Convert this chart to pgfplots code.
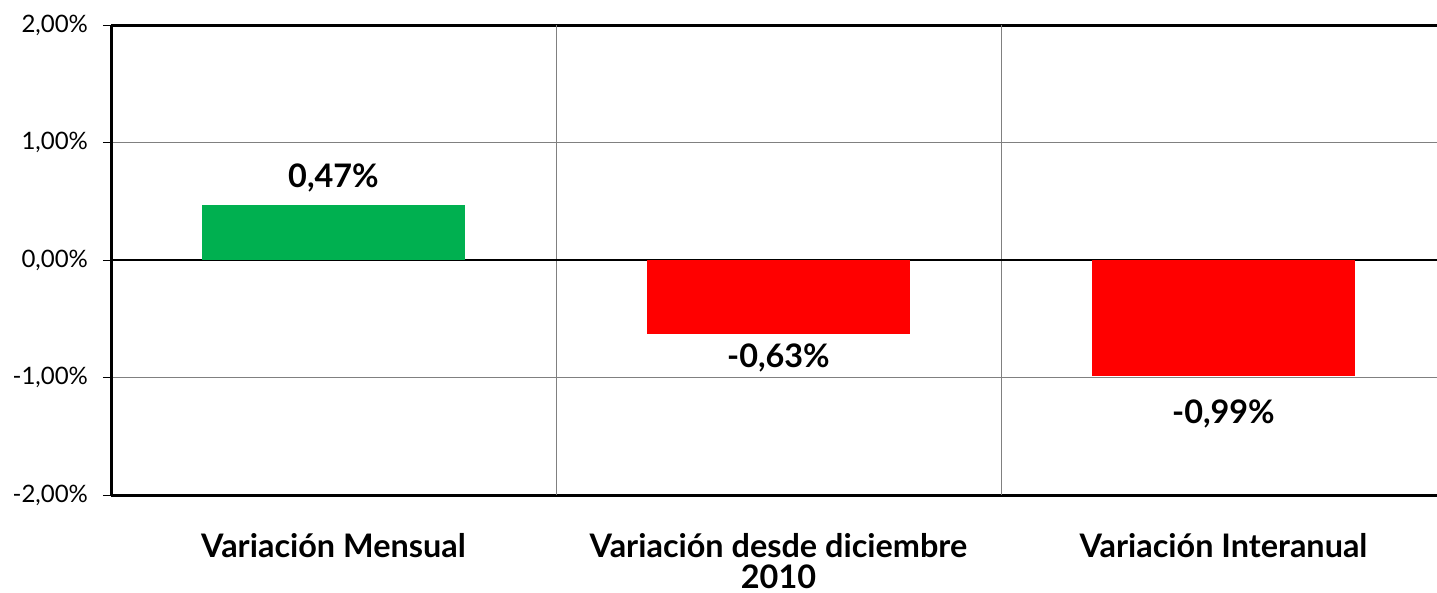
\documentclass[border=0pt]{standalone}
\usepackage{pgfplots}
\pgfplotsset{compat=1.18}
\usepackage{fontspec}
\setmainfont{Lato}
\definecolor{vgreen}{HTML}{00B050}
\definecolor{vred}{HTML}{FF0000}
\begin{document}
\begin{tikzpicture}
\begin{axis}[
  name=ax,
  scale only axis, width=663bp, height=235bp,
  xmin=-0.5, xmax=2.4798, ymin=-2, ymax=2,
  axis x line*=box, axis y line*=left,
  axis line style={line width=1.5bp, black},
  xtick={0,1,2},
  xticklabels={Variación Mensual,{Variación desde diciembre\\2010},Variación Interanual},
  xticklabel style={font=\fontsize{16.2bp}{15.5bp}\selectfont\bfseries, align=center, yshift=-11.5bp},
  major x tick style={draw=none},
  ytick={-2,-1,0,1,2},
  yticklabels={{-2,00\%},{-1,00\%},{0,00\%},{1,00\%},{2,00\%}},
  yticklabel style={font=\fontsize{12bp}{14bp}\selectfont, xshift=-4bp},
  tick align=outside, major tick length=4bp,
  major y tick style={black, line width=0.5bp},
  ymajorgrids, grid style={gray, line width=0.5bp},
  extra x ticks={0.5,1.5}, extra x tick labels={},
  extra x tick style={xmajorgrids=true, major tick length=0pt},
  extra y ticks={0}, extra y tick labels={},
  extra y tick style={grid style={black, line width=0.8bp}, major tick length=0pt},
  nodes near coords={\pgfmathprintnumber[fixed,fixed zerofill,precision=2,use comma,assume math mode=true]{\pgfplotspointmeta}\%},
  nodes near coords align={vertical},
  every node near coord/.append style={font=\fontsize{16.2bp}{18bp}\selectfont\bfseries, text=black},
]
\addplot[ybar, bar shift=0pt, bar width=0.59, fill=vgreen, draw=none,
  every node near coord/.append style={yshift=3bp}]
  coordinates {(0,0.47)};
\addplot[ybar, bar shift=0pt, bar width=0.59, fill=vred, draw=none,
  every node near coord/.append style={yshift=-1.5bp}]
  coordinates {(1,-0.63)};
\addplot[ybar, bar shift=0pt, bar width=0.59, fill=vred, draw=none,
  every node near coord/.append style={yshift=-8bp}]
  coordinates {(2,-0.99)};
\end{axis}
\pgfresetboundingbox
\path[use as bounding box] ([shift={(-55.5bp,-49bp)}]ax.south west) rectangle ([shift={(0bp,12.5bp)}]ax.north east);
\end{tikzpicture}
\end{document}
